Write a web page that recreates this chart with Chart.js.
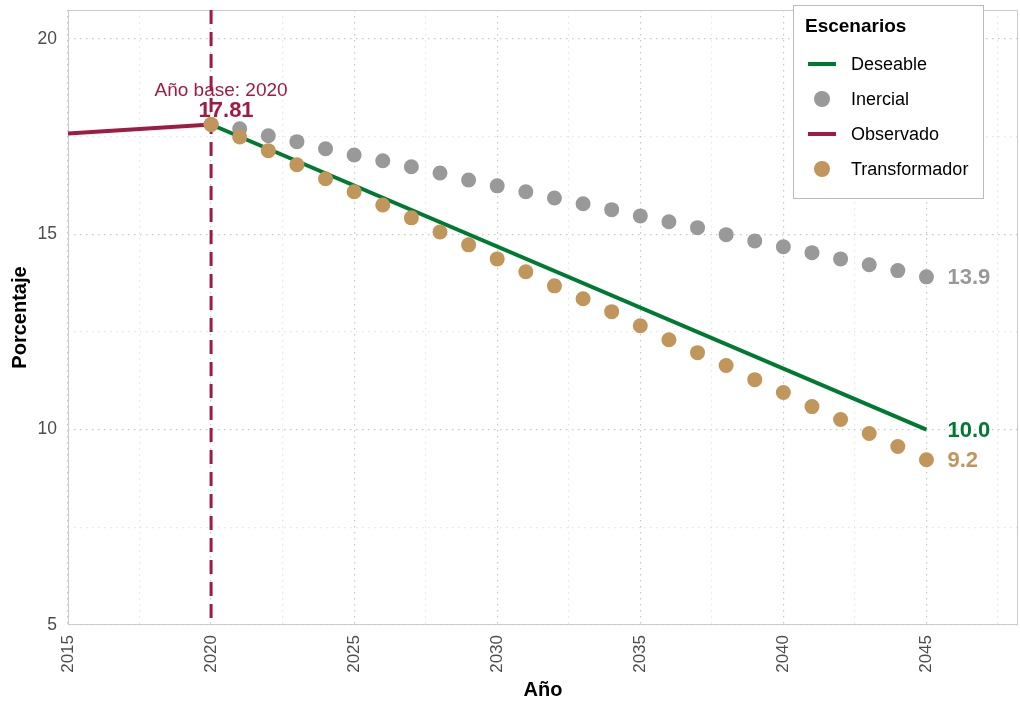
<!DOCTYPE html>
<html>
<head>
<meta charset="utf-8">
<script src="https://cdn.jsdelivr.net/npm/chart.js@4.4.1/dist/chart.umd.min.js"></script>
<style>
  body { margin: 0; background: #fff; }
  canvas { display: block; }
</style>
</head>
<body>
<canvas id="myChart" width="1020" height="702"></canvas>
<script>
const observadoYears = [2015, 2020];
const observadoValues = [17.58, 17.81];

const deseableYears = [2020, 2045];
const deseableValues = [17.81, 10.0];

const escenarioYears = [2020, 2021, 2022, 2023, 2024, 2025, 2026, 2027, 2028, 2029, 2030, 2031, 2032,
  2033, 2034, 2035, 2036, 2037, 2038, 2039, 2040, 2041, 2042, 2043, 2044, 2045];
const inercialValues = [17.81, 17.70, 17.52, 17.37, 17.19, 17.03, 16.88, 16.73, 16.57, 16.39, 16.24,
  16.09, 15.93, 15.78, 15.63, 15.47, 15.32, 15.17, 14.99, 14.83, 14.68, 14.53, 14.37, 14.22, 14.07, 13.91];
const transformadorValues = [17.81, 17.49, 17.14, 16.78, 16.42, 16.09, 15.75, 15.42, 15.06, 14.73, 14.37,
  14.04, 13.68, 13.35, 13.02, 12.66, 12.30, 11.97, 11.64, 11.28, 10.95, 10.59, 10.26, 9.90, 9.57, 9.23];

const xTicks = [2015, 2017.5, 2020, 2022.5, 2025, 2027.5, 2030, 2032.5, 2035, 2037.5, 2040, 2042.5, 2045, 2047.5];
const yTicks = [5, 7.5, 10, 12.5, 15, 17.5, 20];
const baseYear = 2020;

const colors = {
  Deseable: "#007a33",
  Inercial: "#999999",
  Observado: "#9e1b42",
  Transformador: "#c0965a",
};

const FONT = "'Liberation Sans', Arial, sans-serif";

const toPoints = (xs, ys) => xs.map((x, i) => ({ x: x, y: ys[i] }));

const ctx = document.getElementById("myChart").getContext("2d");

// base-year line, panel border, end labels and legend
const extras = {
  id: "extras",
  beforeDatasetsDraw(chart) {
    const c = chart.ctx;
    const a = chart.chartArea;
    const xs = chart.scales.x;
    c.save();
    c.strokeStyle = "#cccccc";
    c.lineWidth = 1;
    c.strokeRect(a.left + 0.5, a.top + 0.5, a.right - a.left - 1, a.bottom - a.top - 1);
    const px = xs.getPixelForValue(baseYear);
    c.strokeStyle = colors.Observado;
    c.lineWidth = 3;
    c.setLineDash([14, 8]);
    c.beginPath();
    c.moveTo(px, a.top);
    c.lineTo(px, a.bottom);
    c.stroke();
    c.restore();
  },
  afterDatasetsDraw(chart) {
    const c = chart.ctx;
    const xs = chart.scales.x;
    const ys = chart.scales.y;
    c.save();
    c.textBaseline = "middle";

    const last = escenarioYears.length - 1;
    const endX = xs.getPixelForValue(escenarioYears[last]) + 21;
    c.textAlign = "left";
    c.font = "bold 22px " + FONT;
    c.fillStyle = colors.Inercial;
    c.fillText(inercialValues[last].toFixed(1), endX, ys.getPixelForValue(inercialValues[last]) + 1);
    c.fillStyle = colors.Deseable;
    c.fillText(deseableValues[1].toFixed(1), endX, ys.getPixelForValue(deseableValues[1]) + 1);
    c.fillStyle = colors.Transformador;
    c.fillText(transformadorValues[last].toFixed(1), endX, ys.getPixelForValue(transformadorValues[last]) + 1);

    const bx = xs.getPixelForValue(baseYear);
    const by = ys.getPixelForValue(observadoValues[1]);
    c.textAlign = "center";
    c.fillStyle = colors.Observado;
    c.font = "19px " + FONT;
    c.fillText("Año base: " + baseYear, bx + 10, by - 34);
    c.font = "bold 22px " + FONT;
    c.fillText(observadoValues[1].toFixed(2), bx + 15, by - 14);
    c.restore();
  },
  afterDraw(chart) {
    const c = chart.ctx;
    c.save();
    const left = 793, top = 5, w = 190, h = 193;
    c.fillStyle = "#ffffff";
    c.fillRect(left, top, w, h);
    c.strokeStyle = "#bbbbbb";
    c.lineWidth = 1;
    c.strokeRect(left + 0.5, top + 0.5, w, h);
    c.fillStyle = "#000000";
    c.textBaseline = "middle";
    c.textAlign = "left";
    c.font = "bold 19px " + FONT;
    c.fillText("Escenarios", left + 12, top + 22);
    c.font = "18px " + FONT;
    const order = ["Deseable", "Inercial", "Observado", "Transformador"];
    order.forEach((name, i) => {
      const ds = chart.data.datasets.find((d) => d.label === name);
      const cy = top + 59 + i * 35;
      if (ds.showLine) {
        c.strokeStyle = ds.borderColor;
        c.lineWidth = 4;
        c.beginPath();
        c.moveTo(left + 15, cy);
        c.lineTo(left + 43, cy);
        c.stroke();
      } else {
        c.fillStyle = ds.backgroundColor;
        c.beginPath();
        c.arc(left + 29, cy, 8, 0, Math.PI * 2);
        c.fill();
      }
      c.fillStyle = "#000000";
      c.fillText(name, left + 58, cy + 1);
    });
    c.restore();
  },
};

const gridColor = (context) =>
  context.tick && context.tick.value % 5 === 0 ? "#c8c8c8" : "#e6e6e6";

const myChart = new Chart(ctx, {
  type: "scatter",
  data: {
    datasets: [
      {
        label: "Transformador",
        data: toPoints(escenarioYears, transformadorValues),
        showLine: false,
        backgroundColor: colors.Transformador,
        borderWidth: 0,
        pointRadius: 7.5,
        order: 0,
      },
      {
        label: "Inercial",
        data: toPoints(escenarioYears, inercialValues),
        showLine: false,
        backgroundColor: colors.Inercial,
        borderWidth: 0,
        pointRadius: 7.5,
        order: 1,
      },
      {
        label: "Deseable",
        data: toPoints(deseableYears, deseableValues),
        showLine: true,
        borderColor: colors.Deseable,
        borderWidth: 4,
        pointRadius: 0,
        order: 2,
      },
      {
        label: "Observado",
        data: toPoints(observadoYears, observadoValues),
        showLine: true,
        borderColor: colors.Observado,
        borderWidth: 4,
        pointRadius: 0,
        order: 3,
      },
    ],
  },
  options: {
    responsive: false,
    animation: false,
    layout: { autoPadding: false, padding: { top: 10, right: 2, left: 0, bottom: 0 } },
    plugins: {
      legend: { display: false },
      tooltip: { enabled: false },
    },
    scales: {
      x: {
        type: "linear",
        min: 2015,
        max: 2048.2,
        afterBuildTicks: (axis) => {
          axis.ticks = xTicks.map((v) => ({ value: v }));
        },
        afterFit: (axis) => {
          axis.height = 77;
          axis.paddingLeft = 0;
          axis.paddingRight = 0;
        },
        ticks: {
          autoSkip: false,
          maxRotation: 90,
          minRotation: 90,
          padding: 10,
          color: "#4d4d4d",
          font: { family: FONT, size: 17 },
          callback: (v) => (v % 5 === 0 ? String(v) : ""),
        },
        grid: { color: gridColor, lineWidth: 1.2, drawTicks: false },
        border: { display: false, dash: [1.5, 4.5] },
        title: {
          display: true,
          text: "Año",
          color: "#000000",
          font: { family: FONT, size: 20, weight: "bold" },
          padding: { top: 0, bottom: 0 },
        },
      },
      y: {
        type: "linear",
        min: 5,
        max: 20.74,
        afterBuildTicks: (axis) => {
          axis.ticks = yTicks.map((v) => ({ value: v }));
        },
        afterFit: (axis) => {
          axis.width = 68;
          axis.paddingTop = 0;
          axis.paddingBottom = 0;
        },
        ticks: {
          autoSkip: false,
          padding: 11,
          color: "#4d4d4d",
          font: { family: FONT, size: 17.5 },
          callback: (v) => (v % 5 === 0 ? String(v) : ""),
        },
        grid: { color: gridColor, lineWidth: 1.2, drawTicks: false },
        border: { display: false, dash: [1.5, 4.5] },
        title: {
          display: true,
          text: "Porcentaje",
          color: "#000000",
          font: { family: FONT, size: 20, weight: "bold" },
          padding: { top: 8, bottom: 0 },
        },
      },
    },
  },
  plugins: [extras],
});
</script>
</body>
</html>
